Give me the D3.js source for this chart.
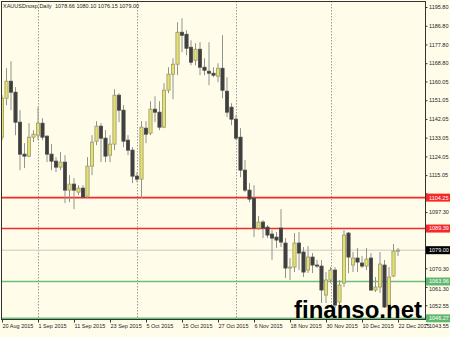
<!DOCTYPE html>
<html>
<head>
<meta charset="utf-8">
<script src="https://cdn.jsdelivr.net/npm/d3@7"></script>
<style>
  body { margin: 0; background: #fffdea; }
  svg { display: block; }
  text { font-family: "Liberation Sans", Arial, sans-serif; }
</style>
</head>
<body>
<div id="chart"></div>
<script>
// XAUUSD daily candles, 20 Aug 2015 .. 22 Dec 2015 (one per trading day)
let opens = [1133.28,1152.00,1160.16,1154.88,1140.48,1125.13,1124.17,1133.28,1134.24,1140.00,
  1133.76,1125.13,1121.77,1118.89,1121.29,1107.85,1110.73,1106.89,1108.81,1104.97,
  1119.37,1131.36,1138.56,1132.80,1124.65,1129.93,1153.44,1146.24,1131.84,1127.05,
  1114.57,1113.13,1137.60,1135.20,1146.72,1145.28,1138.08,1155.84,1163.51,1168.31,
  1183.67,1182.71,1176.47,1170.23,1175.51,1166.87,1164.95,1163.99,1162.56,1166.39,
  1155.36,1147.68,1141.92,1133.28,1117.45,1107.85,1104.01,1089.62,1092.50,1090.10,
  1086.74,1085.30,1089.62,1082.42,1070.42,1070.90,1082.42,1078.10,1069.46,1075.70,
  1071.86,1071.38,1057.47,1064.67,1069.46,1054.11,1063.23,1087.22,1071.86,1075.22,
  1072.82,1071.38,1075.22,1059.87,1061.31,1071.86,1052.67,1066.58,1078.66];
let highs = [1153.44,1166.39,1169.75,1157.28,1146.24,1130.41,1140.00,1136.64,1147.68,1142.40,
  1134.24,1129.93,1123.69,1126.09,1124.65,1115.05,1113.61,1110.25,1110.25,1123.69,
  1134.24,1140.96,1140.00,1136.64,1134.24,1156.32,1154.40,1148.64,1134.24,1128.49,
  1116.49,1140.96,1140.96,1150.56,1152.96,1150.56,1159.20,1166.87,1171.19,1188.47,
  1190.39,1184.63,1179.83,1178.39,1178.87,1171.19,1178.87,1166.87,1168.79,1182.23,
  1162.08,1149.60,1143.84,1137.60,1122.25,1111.21,1110.25,1095.37,1093.46,1091.06,
  1088.66,1087.70,1098.73,1084.82,1075.22,1087.22,1087.70,1080.50,1080.98,1077.62,
  1074.26,1074.26,1068.50,1070.90,1070.90,1064.67,1088.66,1087.70,1078.10,1080.02,
  1076.18,1080.02,1077.62,1066.10,1078.10,1074.26,1070.90,1081.94,1080.10];
let lows = [1131.84,1148.64,1146.24,1134.24,1117.45,1118.41,1123.69,1130.89,1131.84,1131.84,
  1121.29,1117.45,1116.49,1117.45,1101.61,1102.09,1098.73,1105.45,1104.01,1104.01,
  1115.05,1129.45,1121.29,1121.29,1121.29,1127.05,1140.48,1128.49,1124.65,1111.21,
  1111.69,1104.01,1130.41,1134.24,1140.48,1136.64,1137.60,1154.40,1151.52,1163.04,
  1174.07,1172.63,1167.83,1167.83,1163.04,1163.04,1158.24,1162.08,1159.68,1152.00,
  1142.88,1139.04,1131.84,1114.09,1106.89,1102.09,1085.30,1088.66,1084.82,1084.82,
  1074.26,1080.02,1080.50,1065.63,1064.67,1068.50,1069.46,1066.10,1068.02,1068.02,
  1070.42,1053.63,1053.63,1063.23,1051.23,1051.23,1061.31,1068.02,1068.50,1068.50,
  1070.42,1069.46,1059.39,1058.91,1058.43,1051.23,1051.71,1066.10,1076.15];
let closes = [1152.00,1160.16,1154.88,1140.48,1125.13,1124.17,1133.28,1134.72,1140.00,1133.28,
  1125.13,1121.77,1118.89,1121.29,1107.85,1110.73,1107.85,1108.81,1104.49,1119.37,
  1130.89,1138.56,1132.80,1124.17,1129.93,1153.44,1146.24,1131.36,1127.05,1114.57,
  1113.13,1138.08,1134.72,1146.72,1145.28,1138.08,1155.84,1163.51,1168.31,1183.67,
  1182.23,1175.99,1169.27,1175.51,1166.87,1165.43,1163.99,1163.04,1166.39,1155.84,
  1145.28,1141.92,1132.80,1117.45,1107.85,1103.53,1089.62,1092.50,1089.62,1086.26,
  1084.82,1083.86,1082.90,1070.42,1070.90,1082.42,1077.62,1068.50,1075.70,1071.86,
  1071.38,1059.87,1064.67,1069.46,1052.67,1062.27,1086.26,1075.70,1075.22,1073.30,
  1071.38,1074.74,1059.87,1061.31,1072.34,1051.71,1066.10,1078.58,1079.00];

let dateTickBars = [0, 8, 16, 24, 32, 40, 48, 56, 64, 72, 80, 88];
let dateTickLabels = ["20 Aug 2015", "1 Sep 2015", "11 Sep 2015", "23 Sep 2015", "5 Oct 2015",
  "15 Oct 2015", "27 Oct 2015", "6 Nov 2015", "18 Nov 2015", "30 Nov 2015", "10 Dec 2015", "22 Dec 2015"];
let monthStartBars = [8, 30, 52, 73];

let priceTicks = [1195.80, 1186.80, 1177.80, 1168.80, 1160.05, 1151.05, 1142.05, 1133.05, 1124.05,
  1115.05, 1106.30, 1097.30, 1088.30, 1079.30, 1070.30, 1061.30, 1052.55, 1043.55];

let redLevels = [1104.25, 1089.39];
let greenLevels = [1063.96, 1046.27];
let bidPrice = 1079.00;

let titleText = "XAUUSDnosp,Daily";
let ohlcText = "1078.66 1080.10 1076.15 1079.00";

// Set up SVG
let svgWidth = 450;
let svgHeight = 337;
let frame = { left: 1, top: 1, right: 425, bottom: 319 };

let svg = d3.select("#chart").append("svg")
  .attr("width", svgWidth)
  .attr("height", svgHeight);

svg.append("rect")
  .attr("width", svgWidth).attr("height", svgHeight)
  .attr("fill", "#fffdea");

let x = d3.scaleLinear().domain([0, 88]).range([2, 398]);
let y = d3.scaleLinear().domain([1043.55, 1195.80]).range([324, 7]);

svg.append("clipPath").attr("id", "plot")
  .append("rect")
  .attr("x", frame.left).attr("y", frame.top)
  .attr("width", frame.right - frame.left).attr("height", frame.bottom - frame.top);

let plot = svg.append("g").attr("clip-path", "url(#plot)");

// month separators
plot.selectAll(".sep")
  .data(monthStartBars)
  .enter().append("line")
  .attr("x1", d => Math.round(x(d)) + 0.5).attr("x2", d => Math.round(x(d)) + 0.5)
  .attr("y1", frame.top).attr("y2", frame.bottom)
  .attr("stroke", "#9a9a9a")
  .attr("stroke-dasharray", "1.5,1.5");

// bid line
plot.append("line")
  .attr("x1", frame.left).attr("x2", frame.right)
  .attr("y1", y(bidPrice)).attr("y2", y(bidPrice))
  .attr("stroke", "#c9c9c3").attr("stroke-width", 1);

// horizontal levels
plot.selectAll(".red")
  .data(redLevels)
  .enter().append("line")
  .attr("x1", frame.left).attr("x2", frame.right)
  .attr("y1", d => y(d)).attr("y2", d => y(d))
  .attr("stroke", "#f42a2a").attr("stroke-width", 1.6);

plot.selectAll(".green")
  .data(greenLevels)
  .enter().append("line")
  .attr("x1", frame.left).attr("x2", frame.right)
  .attr("y1", d => y(d)).attr("y2", d => y(d))
  .attr("stroke", "#6cbf78").attr("stroke-width", 1.6);

// candles
let bars = d3.range(opens.length);

plot.selectAll(".wick")
  .data(bars)
  .enter().append("line")
  .attr("x1", i => x(i)).attr("x2", i => x(i))
  .attr("y1", i => y(highs[i])).attr("y2", i => y(lows[i]))
  .attr("stroke", "#8f948c").attr("stroke-width", 1);

plot.selectAll(".body")
  .data(bars)
  .enter().append("rect")
  .attr("x", i => x(i) - 1.6)
  .attr("width", 3.2)
  .attr("y", i => y(Math.max(opens[i], closes[i])))
  .attr("height", i => Math.max(1, Math.abs(y(opens[i]) - y(closes[i]))))
  .attr("fill", i => closes[i] >= opens[i] ? "#e6e16c" : "#3e3e3e")
  .attr("stroke", i => closes[i] >= opens[i] ? "#9a9870" : "#4a4a4a")
  .attr("stroke-width", 0.8);

// frame
svg.append("rect")
  .attr("x", frame.left + 0.5).attr("y", frame.top + 0.5)
  .attr("width", frame.right - frame.left).attr("height", frame.bottom - frame.top)
  .attr("fill", "none").attr("stroke", "#333").attr("stroke-width", 1);

// price axis: labels sitting right under a level box are hidden,
// labels only grazing a box are nudged away from it
let levelValues = redLevels.concat(greenLevels, [bidPrice]);
let nearestGap = d => {
  let best = null;
  levelValues.forEach(v => {
    let g = y(d) - y(v);
    if (best === null || Math.abs(g) < Math.abs(best)) best = g;
  });
  return best;
};

let yAxis = d3.axisRight(y)
  .tickValues(priceTicks)
  .tickSize(2)
  .tickPadding(1.5)
  .tickFormat(d => Math.abs(nearestGap(d)) < 5 ? "" : d.toFixed(2));

let yAxisG = svg.append("g")
  .attr("transform", `translate(${frame.right + 0.5}, 0)`)
  .call(yAxis);
yAxisG.select(".domain").remove();
yAxisG.selectAll("text")
  .attr("font-size", 5.5).attr("fill", "#222")
  .attr("font-family", "Liberation Sans, Arial, sans-serif")
  .attr("y", d => {
    let g = nearestGap(d);
    return Math.abs(g) < 8 ? Math.sign(g) * (7 - Math.abs(g)) : 0;
  });
yAxisG.selectAll("line").attr("stroke", "#333");

// date axis
let xAxis = d3.axisBottom(x)
  .tickValues(dateTickBars)
  .tickSize(3)
  .tickPadding(2)
  .tickFormat((d, k) => dateTickLabels[k]);

let xAxisG = svg.append("g")
  .attr("transform", `translate(0, ${frame.bottom + 0.5})`)
  .call(xAxis);
xAxisG.select(".domain").remove();
xAxisG.selectAll("text").attr("font-size", 5.5).attr("fill", "#222")
  .attr("text-anchor", "start").attr("font-family", "Liberation Sans, Arial, sans-serif");
xAxisG.selectAll("line").attr("stroke", "#333");

// level labels on price axis
function levelLabel(value, bg) {
  let g = svg.append("g").attr("transform", `translate(${frame.right + 1}, ${y(value)})`);
  g.append("rect").attr("x", 0).attr("y", -4).attr("width", 24).attr("height", 8).attr("fill", bg);
  g.append("text").attr("x", 3).attr("dy", "0.35em")
    .attr("font-size", 5.5).attr("fill", "#fff")
    .text(value.toFixed(2));
}
redLevels.forEach(v => levelLabel(v, "#f42a2a"));
greenLevels.forEach(v => levelLabel(v, "#5fb870"));
levelLabel(bidPrice, "#000");

// title
svg.append("text").attr("x", 3).attr("y", 7.5)
  .attr("font-size", 5.5).attr("fill", "#222")
  .text(titleText);
svg.append("text").attr("x", 55).attr("y", 7.5)
  .attr("font-size", 5.5).attr("fill", "#222")
  .text(ohlcText);

// watermark
svg.append("text")
  .attr("x", 294).attr("y", 318)
  .attr("font-family", "DejaVu Sans, sans-serif")
  .attr("font-weight", "bold")
  .attr("font-size", 24)
  .attr("fill", "#000")
  .text("finanso.net");
</script>
</body>
</html>
